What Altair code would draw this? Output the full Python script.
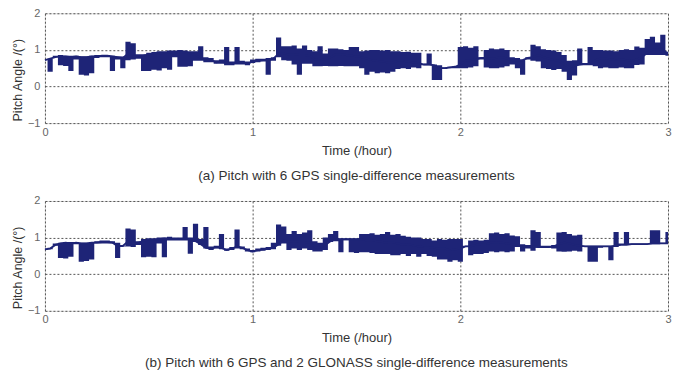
import altair as alt
import pandas as pd

# sampling grid (hours)
t = [round(i * 0.025, 3) for i in range(121)]

# ---- panel (a): 6 GPS ----
base_a = [0.72,0.76,0.80,0.82,0.82,0.80,0.82,0.80,0.80,0.82,
          0.82,0.84,0.84,0.82,0.80,0.78,0.90,0.82,0.82,0.84,
          0.88,0.90,0.90,0.92,0.92,0.92,0.93,0.92,0.90,0.86,
          0.78,0.72,0.72,0.66,0.68,0.64,0.62,0.66,0.66,0.62,
          0.68,0.70,0.72,0.72,0.76,0.90,0.90,0.88,0.88,0.86,
          0.86,0.84,0.74,0.72,0.74,0.80,0.88,0.88,0.86,0.84,
          0.82,0.80,0.76,0.72,0.70,0.68,0.66,0.66,0.70,0.70,
          0.68,0.66,0.64,0.60,0.60,0.58,0.50,0.50,0.52,0.54,
          0.60,0.70,0.72,0.74,0.78,0.78,0.76,0.78,0.80,0.76,
          0.72,0.70,0.72,0.78,0.80,0.86,0.80,0.76,0.72,0.70,
          0.60,0.52,0.56,0.60,0.62,0.62,0.72,0.76,0.76,0.74,
          0.72,0.74,0.72,0.70,0.74,0.80,0.92,1.00,1.02,1.00,
          0.90]
lo_a = [0.72,0.40,0.80,0.58,0.56,0.42,0.74,0.32,0.30,0.36,
        0.78,0.80,0.80,0.42,0.74,0.50,0.72,0.74,0.76,0.42,
        0.42,0.46,0.44,0.50,0.46,0.80,0.54,0.54,0.55,0.70,
        0.70,0.66,0.66,0.62,0.62,0.58,0.58,0.60,0.60,0.58,
        0.64,0.66,0.68,0.32,0.70,0.80,0.72,0.70,0.60,0.32,
        0.62,0.62,0.55,0.55,0.56,0.55,0.55,0.56,0.55,0.55,
        0.55,0.50,0.32,0.40,0.36,0.38,0.36,0.40,0.48,0.50,
        0.48,0.52,0.50,0.58,0.58,0.18,0.18,0.48,0.50,0.50,
        0.50,0.50,0.52,0.55,0.74,0.52,0.50,0.50,0.52,0.55,
        0.60,0.50,0.32,0.74,0.70,0.68,0.50,0.48,0.45,0.48,
        0.40,0.18,0.30,0.58,0.58,0.58,0.55,0.50,0.52,0.50,
        0.50,0.52,0.50,0.50,0.59,0.60,0.86,0.86,0.86,0.86,
        0.84]
hi_a = [0.72,0.76,0.84,0.86,0.84,0.84,0.84,0.82,0.82,0.84,
        0.86,0.86,0.86,0.84,0.82,0.82,1.22,1.18,0.88,0.88,
        0.92,0.94,0.96,0.96,0.98,0.98,1.00,0.98,0.96,0.96,
        1.10,0.80,0.78,0.72,0.74,1.08,0.68,1.08,0.70,0.68,
        0.74,0.76,0.76,0.78,0.80,1.34,1.10,1.10,1.12,1.04,
        1.12,1.00,0.96,1.10,0.90,1.04,1.04,1.02,1.00,1.08,
        1.08,0.96,0.98,1.00,1.00,0.98,1.00,0.96,0.96,0.94,
        0.95,0.92,0.92,0.62,0.90,0.60,0.58,0.52,0.54,0.56,
        1.08,1.10,1.06,1.10,0.80,1.00,1.04,1.02,1.04,1.00,
        0.80,0.78,0.74,0.80,1.14,1.10,1.02,1.00,0.98,0.94,
        0.86,0.70,0.72,1.04,0.64,1.08,1.00,1.00,0.98,0.98,
        0.96,1.00,1.02,1.00,1.09,1.06,1.30,1.36,1.20,1.41,
        0.95]

# ---- panel (b): 6 GPS + 2 GLONASS ----
base_b = [0.68,0.70,0.80,0.84,0.86,0.84,0.86,0.84,0.84,0.86,
          0.86,0.88,0.88,0.86,0.77,0.77,0.90,0.84,0.86,0.92,
          0.94,0.94,0.96,0.98,0.96,0.96,0.96,0.96,0.96,0.90,
          0.82,0.72,0.70,0.74,0.72,0.66,0.70,0.76,0.72,0.66,
          0.62,0.66,0.68,0.70,0.72,0.82,0.92,0.88,0.90,0.88,
          0.88,0.86,0.74,0.72,0.80,0.90,0.95,0.95,0.95,0.95,
          0.95,0.95,0.92,0.92,0.90,0.88,0.86,0.86,0.84,0.80,
          0.82,0.78,0.76,0.74,0.74,0.72,0.70,0.70,0.66,0.68,
          0.70,0.76,0.76,0.80,0.82,0.82,0.86,0.88,0.86,0.84,
          0.82,0.78,0.76,0.74,0.76,0.74,0.74,0.74,0.76,0.82,
          0.86,0.84,0.80,0.78,0.76,0.76,0.76,0.76,0.76,0.76,
          0.78,0.80,0.80,0.82,0.82,0.82,0.82,0.84,0.84,0.84,
          0.84]
lo_b = [0.66,0.68,0.78,0.44,0.43,0.48,0.82,0.34,0.36,0.40,
        0.84,0.84,0.84,0.84,0.44,0.76,0.76,0.74,0.80,0.46,
        0.48,0.46,0.84,0.46,0.92,0.92,0.92,0.92,0.56,0.88,
        0.80,0.70,0.66,0.70,0.68,0.64,0.66,0.70,0.68,0.62,
        0.60,0.62,0.64,0.66,0.68,0.78,0.84,0.66,0.70,0.66,
        0.70,0.66,0.62,0.62,0.66,0.88,0.90,0.60,0.93,0.60,
        0.58,0.60,0.60,0.58,0.55,0.55,0.55,0.52,0.52,0.55,
        0.50,0.55,0.48,0.55,0.50,0.48,0.40,0.40,0.34,0.38,
        0.34,0.74,0.52,0.55,0.55,0.58,0.62,0.60,0.62,0.60,
        0.62,0.74,0.62,0.70,0.64,0.72,0.72,0.72,0.70,0.62,
        0.61,0.62,0.64,0.62,0.74,0.34,0.34,0.72,0.74,0.38,
        0.74,0.80,0.80,0.82,0.82,0.82,0.82,0.82,0.82,0.84,
        0.84]
hi_b = [0.70,0.72,0.84,0.86,0.88,0.88,0.88,0.86,0.86,0.88,
        0.90,0.92,0.92,0.90,0.86,0.78,1.25,1.22,0.90,0.96,
        0.98,0.98,1.00,1.00,1.02,1.00,1.00,1.29,1.00,1.38,
        0.96,1.29,0.76,0.78,1.10,0.70,0.74,1.22,0.76,0.70,
        0.66,0.70,0.72,0.74,0.86,1.36,1.30,1.10,1.18,1.10,
        1.14,1.20,0.90,0.86,1.00,1.10,1.18,0.98,0.98,0.98,
        0.98,1.10,1.10,1.12,1.08,1.10,1.15,1.08,1.10,1.05,
        1.02,1.00,1.00,0.96,0.96,0.92,0.96,0.94,0.96,0.96,
        0.96,0.78,0.92,0.94,0.92,0.94,1.12,1.14,1.10,1.12,
        1.06,1.04,0.82,0.80,1.20,1.15,0.78,0.78,0.80,1.14,
        1.15,1.10,1.06,1.08,0.78,0.78,0.78,0.78,0.78,0.78,
        1.15,0.84,1.15,0.84,0.84,0.84,0.84,1.20,1.20,0.86,
        1.15]

x_ticks = [0, 1, 2, 3]
y_ticks = [-1, 0, 1, 2]
captions = ["(a) Pitch with 6 GPS single-difference measurements",
            "(b) Pitch with 6 GPS and 2 GLONASS single-difference measurements"]

NAVY = "#1e2477"
FONT = "Liberation Sans"
W, H = 624, 110

XAXIS = alt.Axis(values=x_ticks, format="d", title="Time (/hour)", grid=True,
                 gridDash=[2, 2], gridColor="#555", gridOpacity=1,
                 domain=False, ticks=False, labelPadding=3,
                 labelColor="#666", labelFontSize=11, labelFont=FONT,
                 titleFont=FONT, titleFontSize=13, titleFontWeight="normal",
                 titleColor="#333", titleY=27, titleBaseline="middle",
                 labelFlush=False, labelOverlap=False)
YAXIS = alt.Axis(values=y_ticks, format="d", title="Pitch Angle /(°)", grid=True,
                 gridDash=[2, 2], gridColor="#555", gridOpacity=1,
                 domain=False, ticks=False, labelPadding=5,
                 labelColor="#666", labelFontSize=11, labelFont=FONT,
                 titleFont=FONT, titleFontSize=12.5, titleFontWeight="normal",
                 titleColor="#333", titleX=-27, titleY=66.5, titleAngle=270,
                 titleBaseline="middle", titleAlign="center",
                 labelFlush=False, labelOverlap=False)
XSCALE = alt.Scale(domain=[0, 3], nice=False)
YSCALE = alt.Scale(domain=[-1, 2], nice=False)


def panel(base, lo, hi, caption, cap_offset):
    df = pd.DataFrame({"t": t, "base": base, "lo": lo, "hi": hi})
    area = alt.Chart(df).mark_area(interpolate="step", color=NAVY, opacity=1).encode(
        x=alt.X("t:Q", scale=XSCALE, axis=XAXIS),
        y=alt.Y("lo:Q", scale=YSCALE, axis=YAXIS),
        y2="hi:Q")
    line = alt.Chart(df).mark_line(color=NAVY, strokeWidth=1.8).encode(
        x=alt.X("t:Q", scale=XSCALE, axis=XAXIS),
        y=alt.Y("base:Q", scale=YSCALE, axis=YAXIS))
    return alt.layer(area, line).properties(
        width=W, height=H,
        title=alt.TitleParams(caption, orient="bottom", anchor="middle", font=FONT,
                              fontSize=13.5, fontWeight="normal", color="#333",
                              offset=cap_offset))


chart = alt.vconcat(
    panel(base_a, lo_a, hi_a, captions[0], 12),
    panel(base_b, lo_b, hi_b, captions[1], 11),
    spacing=11,
).properties(
    padding={"left": 3, "top": -2, "right": 0, "bottom": 0}
).configure_view(stroke="#999", strokeWidth=1).configure(background="white")

chart.save("out.html", embed_options={"renderer": "svg", "actions": False})
